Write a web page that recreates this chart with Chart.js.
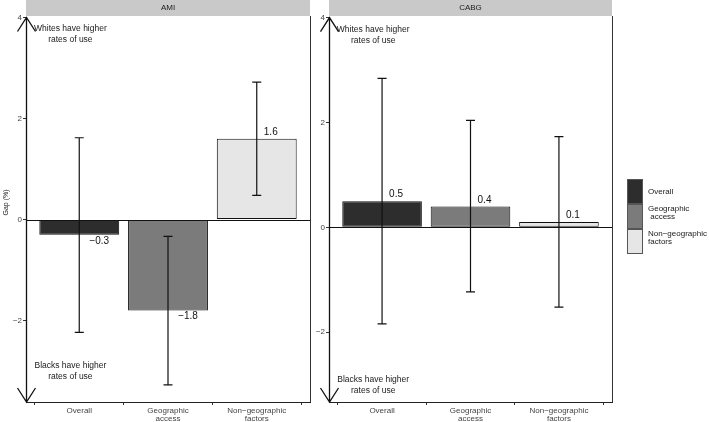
<!DOCTYPE html>
<html><head><meta charset="utf-8">
<script src="https://cdn.jsdelivr.net/npm/chart.js@4/dist/chart.umd.min.js"></script>
<style>
html,body{margin:0;padding:0;background:#fff;}
body{width:709px;height:422px;position:relative;overflow:hidden;font-family:"Liberation Sans",Arial,sans-serif;}
.panel{position:absolute;top:0;height:422px;}
#p1{left:0;width:318px;}
#p2{left:303px;width:318px;}
.key{position:absolute;left:627px;width:16px;height:25px;box-sizing:border-box;border:1.5px solid #555;}
.lab{position:absolute;left:648px;font-size:8px;line-height:8px;color:#1a1a1a;white-space:pre;}
</style></head>
<body>
<div class="panel" id="p1"><canvas id="c1"></canvas></div>
<div class="panel" id="p2"><canvas id="c2"></canvas></div>
<div id="legend"></div>
<script>
// ---- data ----
const categories = ['Overall', 'Geographic access', 'Non-geographic factors'];
const tickLabels = [['Overall'], ['Geographic', 'access'], ['Non\u2212geographic', 'factors']];
const legendLabels = ['Overall', 'Geographic\n access', 'Non\u2212geographic\nfactors'];
const panelTitles = ['AMI', 'CABG'];
const yAxisTitle = 'Gap (%)';
const amiGap = [-0.3, -1.8, 1.6];
const amiLow = [-2.23, -3.27, 0.48];
const amiHigh = [1.62, -0.33, 2.72];
const cabgGap = [0.5, 0.4, 0.1];
const cabgLow = [-1.84, -1.23, -1.52];
const cabgHigh = [2.84, 2.04, 1.73];
const yTicks = [-2, 0, 2, 4];
const barColors = ['#2d2d2d', '#7b7b7b', '#e6e6e6'];

const FONT = '"Liberation Sans", Arial, sans-serif';
const fmt = v => (v < 0 ? '\u2212' + Math.abs(v) : String(v));

const decor = {
  id: 'decor',
  beforeDatasetsDraw(chart, args, o) {
    const {ctx, chartArea: a} = chart;
    ctx.save();
    // strip
    ctx.fillStyle = '#c9c9c9';
    ctx.fillRect(a.left, 0, a.right - a.left, a.top);
    ctx.fillStyle = '#1a1a1a';
    ctx.font = '8px ' + FONT;
    ctx.textAlign = 'center'; ctx.textBaseline = 'middle';
    ctx.fillText(o.title, (a.left + a.right) / 2, a.top / 2);
    if (o.yTitle) {
      ctx.save();
      ctx.translate(6, 202.5);
      ctx.rotate(-Math.PI / 2);
      ctx.font = '7px ' + FONT;
      ctx.fillText(o.yTitle, 0, 0);
      ctx.restore();
    }
    ctx.restore();
  },
  afterDatasetsDraw(chart, args, o) {
    const {ctx, chartArea: a, scales: {x, y}} = chart;
    ctx.save();
    // zero line
    ctx.strokeStyle = '#111'; ctx.lineWidth = 1;
    const y0 = Math.round(y.getPixelForValue(0)) + 0.5;
    ctx.beginPath(); ctx.moveTo(a.left, y0); ctx.lineTo(a.right, y0); ctx.stroke();
    // right border
    ctx.strokeStyle = '#333';
    ctx.beginPath(); ctx.moveTo(a.right + 0.5, a.top); ctx.lineTo(a.right + 0.5, a.bottom); ctx.stroke();
    // error bars
    ctx.strokeStyle = '#111'; ctx.lineWidth = 1.2;
    o.low.forEach((lo, i) => {
      const px = x.getPixelForValue(i + 1);
      const yl = y.getPixelForValue(lo), yh = y.getPixelForValue(o.high[i]);
      ctx.beginPath();
      ctx.moveTo(px, yl); ctx.lineTo(px, yh);
      ctx.moveTo(px - 4.5, yl); ctx.lineTo(px + 4.5, yl);
      ctx.moveTo(px - 4.5, yh); ctx.lineTo(px + 4.5, yh);
      ctx.stroke();
    });
    // value labels
    ctx.fillStyle = '#111'; ctx.font = '10px ' + FONT;
    ctx.textAlign = 'center'; ctx.textBaseline = 'middle';
    o.values.forEach((v, i) => {
      const px = x.getPixelForValue(i + 1) + (v < 0 ? 20 : 14);
      const py = y.getPixelForValue(v) + (v < 0 ? 6 : -6.5);
      ctx.fillText(fmt(v), px, py);
    });
    // arrow axis
    const ax = a.left + 0.5;
    const yt = y.getPixelForValue(4), yb = a.bottom;
    ctx.strokeStyle = '#111'; ctx.lineWidth = 1.3;
    ctx.beginPath();
    ctx.moveTo(ax, yt); ctx.lineTo(ax, yb);
    ctx.moveTo(ax - 9, yt + 14); ctx.lineTo(ax, yt); ctx.lineTo(ax + 9, yt + 14);
    ctx.moveTo(ax - 9, yb - 14); ctx.lineTo(ax, yb); ctx.lineTo(ax + 9, yb - 14);
    ctx.stroke();
    // annotations
    ctx.fillStyle = '#1a1a1a'; ctx.font = '8.5px ' + FONT;
    const tx = x.getPixelForValue(0.9);
    const yw = y.getPixelForValue(3.67), yk = y.getPixelForValue(-3.0);
    ctx.fillText('Whites have higher', tx, yw - 5.5);
    ctx.fillText('rates of use', tx, yw + 5.5);
    ctx.fillText('Blacks have higher', tx, yk - 5.5);
    ctx.fillText('rates of use', tx, yk + 5.5);
    ctx.restore();
  }
};

function makeChart(id, values, low, high, title, ymin, ymax, padRight, yTitle) {
  return new Chart(document.getElementById(id), {
    type: 'bar',
    data: {
      datasets: [{
        data: values.map((v, i) => ({x: i + 1, y: v})),
        backgroundColor: barColors,
        borderColor: '#111',
        borderWidth: 1,
        borderSkipped: false,
        barPercentage: 0.9,
        categoryPercentage: 1.0
      }]
    },
    options: {
      responsive: true, maintainAspectRatio: false, animation: false,
      layout: {padding: {top: 16, right: padRight, left: 0, bottom: 0}},
      plugins: {
        legend: {display: false}, tooltip: {enabled: false},
        decor: {title: title, values: values, low: low, high: high, yTitle: yTitle}
      },
      scales: {
        x: {
          type: 'linear', min: 0.4, max: 3.6, offset: false,
          afterBuildTicks: s => { s.ticks = [1, 2, 3].map(v => ({value: v})); },
          afterFit: s => { s.height = 20; },
          ticks: {
            callback: v => tickLabels[v - 1] || '',
            font: {family: FONT, size: 8, lineHeight: 1.1},
            color: '#444', padding: 1, maxRotation: 0, autoSkip: false
          },
          grid: {display: true, drawOnChartArea: false, drawTicks: true, tickLength: 3, color: '#333'},
          border: {display: true, color: '#222', width: 1}
        },
        y: {
          min: ymin, max: ymax,
          afterBuildTicks: s => { s.ticks = yTicks.map(v => ({value: v})); },
          afterFit: s => { s.width = 26; },
          ticks: {
            callback: v => fmt(v),
            font: {family: FONT, size: 8}, color: '#444', padding: 1
          },
          grid: {display: true, drawOnChartArea: false, drawTicks: true, tickLength: 3, color: '#333'},
          border: {display: false}
        }
      }
    },
    plugins: [decor]
  });
}

makeChart('c1', amiGap, amiLow, amiHigh, panelTitles[0], -3.61, 4.03, 8, yAxisTitle);
makeChart('c2', cabgGap, cabgLow, cabgHigh, panelTitles[1], -3.33, 4.03, 9, null);

// legend
const tops = [179, 204, 229];
const labTops = [188, 205, 229.5];
const lg = document.getElementById('legend');
barColors.forEach((c, i) => {
  const k = document.createElement('div');
  k.className = 'key';
  k.style.top = tops[i] + 'px'; k.style.background = c;
  lg.appendChild(k);
  const l = document.createElement('div');
  l.className = 'lab';
  l.style.top = labTops[i] + 'px';
  l.textContent = legendLabels[i];
  lg.appendChild(l);
});
</script>
</body></html>
